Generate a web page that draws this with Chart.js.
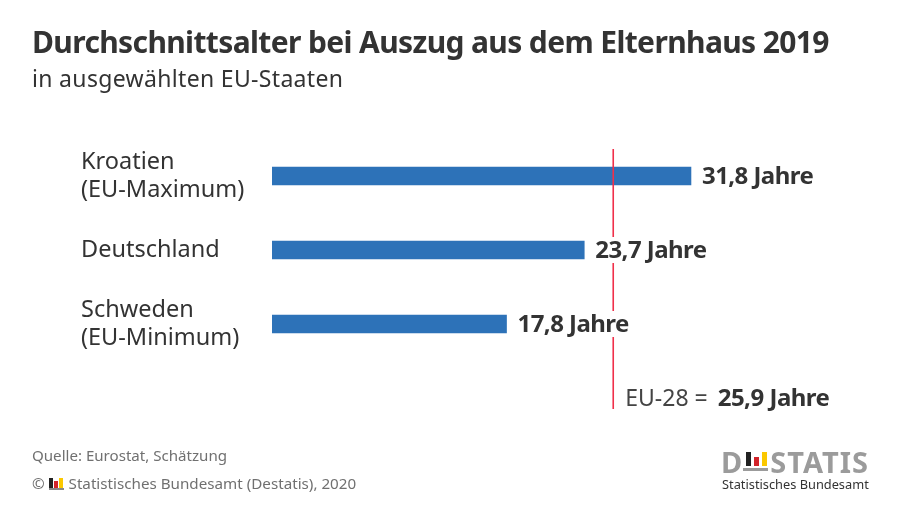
<!DOCTYPE html>
<html>
<head>
<meta charset="utf-8">
<script src="https://cdn.jsdelivr.net/npm/chart.js@4"></script>
<style>
body { margin: 0; background: #fff; }
#wrap { position: relative; width: 900px; height: 507px; overflow: hidden; font-family: "Noto Sans", sans-serif; color: #333; }
#wrap div { position: absolute; white-space: nowrap; }
canvas { position: absolute; left: 0; top: 0; }
#title { left: 32px; top: 21px; font-size: 30px; font-weight: 700; letter-spacing: -0.63px; }
#subtitle { left: 32px; top: 62px; font-size: 23px; letter-spacing: 0.33px; }
#source { left: 32px; top: 445px; font-size: 15.1px; color: #707070; }
#copy { left: 32px; top: 473px; font-size: 15.2px; color: #707070; }
#copy .flag { display: inline-block; position: relative; width: 15px; height: 12px; vertical-align: -1px; margin: 0 1px 0 0; }
#copy .flag i { position: absolute; bottom: 2px; width: 4px; }
#copy .flag b { position: absolute; bottom: 0; left: 0; width: 15px; height: 2px; background: #888; }
#logoText { left: 721px; top: 442px; font-size: 29px; font-weight: 700; letter-spacing: 1px; color: #9b9b9b; }
#logoSub { left: 722px; top: 475px; font-size: 12.8px; color: #333; }
</style>
</head>
<body>
<div id="wrap">
  <canvas id="myChart" width="900" height="507"></canvas>
  <div id="title">Durchschnittsalter bei Auszug aus dem Elternhaus 2019</div>
  <div id="subtitle">in ausgewählten EU-Staaten</div>
  <div id="source">Quelle: Eurostat, Schätzung</div>
  <div id="copy">© <span class="flag"><i style="left:0;height:10px;background:#222"></i><i style="left:5px;height:7px;background:#d2232a"></i><i style="left:10px;height:10px;background:#fbc800"></i><b></b></span> Statistisches Bundesamt (Destatis), 2020</div>
  <div id="logoText">D<span style="display:inline-block;width:27px"></span>STATIS</div>
  <div style="left:746px;top:452px;width:5px;height:14px;background:#222"></div>
  <div style="left:754px;top:457px;width:5px;height:9px;background:#d2232a"></div>
  <div style="left:762px;top:452px;width:5px;height:14px;background:#fbc800"></div>
  <div style="left:743px;top:468px;width:25px;height:3px;background:#9b9b9b"></div>
  <div id="logoSub">Statistisches Bundesamt</div>
</div>
<script>
// Values
const categories = [['Kroatien', '(EU-Maximum)'], 'Deutschland', ['Schweden', '(EU-Minimum)']];
const ages = [31.8, 23.7, 17.8];
const valueLabels = ['31,8 Jahre', '23,7 Jahre', '17,8 Jahre'];
const euAverage = 25.9;
// reference line runs from just above the first band to below the last one (in band units)
const euLineSpan = [0.135, 3.65];

const textColor = '#333333';
const labelFont = 'bold 24px "Noto Sans", sans-serif';

// Draws the value labels next to the bars and the EU-28 note under the line
const labelsPlugin = {
    id: 'valueLabels',
    afterDraw(chart) {
        const ctx = chart.ctx;
        const bars = chart.getDatasetMeta(0).data;
        ctx.save();
        ctx.textBaseline = 'middle';
        ctx.font = labelFont;
        ctx.letterSpacing = '-0.55px';
        bars.forEach((bar, i) => {
            const x = bar.x + 11;
            const w = ctx.measureText(valueLabels[i]).width;
            // white box cuts the red line behind the text
            ctx.fillStyle = '#fff';
            ctx.fillRect(x, bar.y - 13, w, 26);
            ctx.fillStyle = textColor;
            ctx.fillText(valueLabels[i], x, bar.y + 1);
        });
        const lineX = chart.scales.x.getPixelForValue(euAverage);
        const noteY = chart.scales.yLine.getPixelForValue(3.5);
        ctx.letterSpacing = '0px';
        ctx.font = '23px "Noto Sans", sans-serif';
        ctx.fillStyle = '#444';
        const note = 'EU-28 = ';
        ctx.fillText(note, lineX + 12, noteY + 1);
        const noteW = ctx.measureText(note).width;
        ctx.font = labelFont;
        ctx.letterSpacing = '-0.5px';
        ctx.fillStyle = textColor;
        ctx.fillText('25,9 Jahre', lineX + 16 + noteW, noteY + 1);
        ctx.restore();
    }
};

new Chart(document.getElementById('myChart').getContext('2d'), {
    data: {
        labels: categories,
        datasets: [
            {
                type: 'bar',
                data: ages,
                backgroundColor: '#2d72b8',
                barThickness: 18,
                grouped: false,
                order: 2
            },
            {
                type: 'scatter',
                data: euLineSpan.map(v => ({ x: euAverage, y: v })),
                yAxisID: 'yLine',
                showLine: true,
                borderColor: '#f0304a',
                borderWidth: 1.6,
                pointRadius: 0,
                clip: false,
                order: 1
            }
        ]
    },
    options: {
        indexAxis: 'y',
        responsive: false,
        animation: false,
        layout: { padding: { left: 81, right: 101, top: 139, bottom: 146 } },
        plugins: { legend: { display: false }, tooltip: { enabled: false } },
        scales: {
            x: { display: false, min: 0, max: 40 },
            y: {
                position: 'left',
                grid: { display: false },
                border: { display: false },
                afterFit(axis) { axis.width = 191; },
                ticks: {
                    crossAlign: 'far',
                    padding: 0,
                    color: textColor,
                    font: { family: '"Noto Sans", sans-serif', size: 23.5, lineHeight: 1.2 }
                }
            },
            yLine: { display: false, type: 'linear', min: 0, max: 3, reverse: true }
        }
    },
    plugins: [labelsPlugin]
});
</script>
</body>
</html>
